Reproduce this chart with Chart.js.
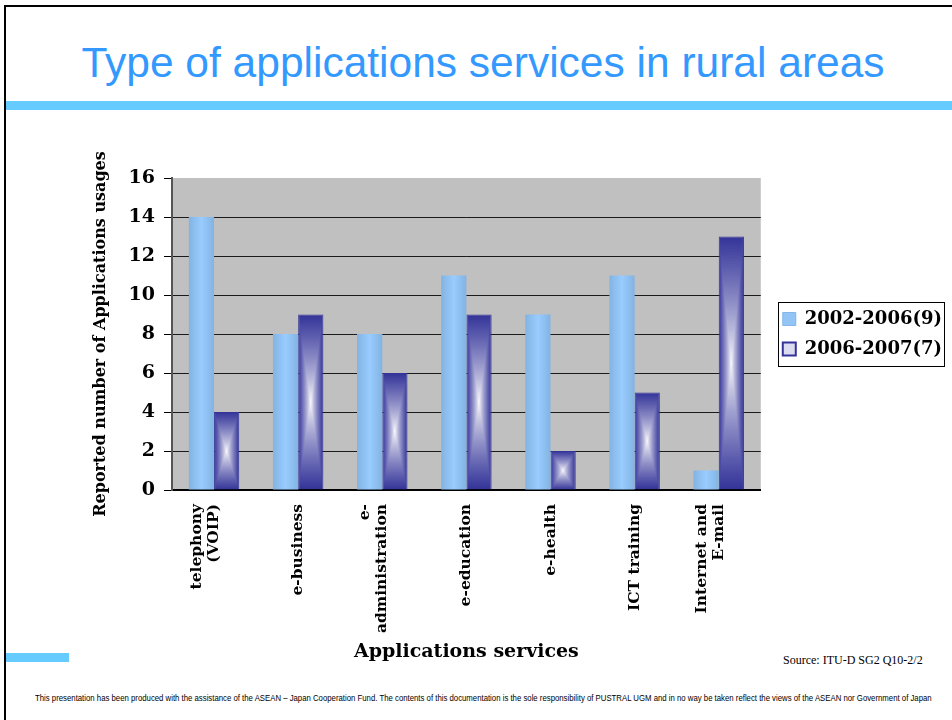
<!DOCTYPE html>
<html>
<head>
<meta charset="utf-8">
<script src="https://cdn.jsdelivr.net/npm/chart.js@4.4.0/dist/chart.umd.min.js"></script>
<style>
  body { margin: 0; width: 952px; height: 720px; background: #fff; position: relative; overflow: hidden; }
  .frameTop { position: absolute; left: 4px; top: 5px; width: 948px; height: 2px; background: #000; }
  .frameLeft { position: absolute; left: 4px; top: 5px; width: 2px; height: 715px; background: #000; }
  .title { position: absolute; left: 0; width: 966px; top: 39px; text-align: center; font-family: "Liberation Sans", Arial, sans-serif; font-size: 42.5px; color: #3399FF; white-space: nowrap; }
  .bar1 { position: absolute; left: 6px; top: 101px; width: 946px; height: 9px; background: #66CCFF; }
  .bar2 { position: absolute; left: 6px; top: 653px; width: 63px; height: 9px; background: #66CCFF; }
  .source { position: absolute; left: 783px; top: 653px; font-family: "Liberation Serif", serif; font-size: 12px; color: #000; }
  #footer { position: absolute; left: 35px; top: 693px; font-family: "Liberation Sans", Arial, sans-serif; font-size: 9px; color: #000; white-space: nowrap; transform-origin: 0 0; }
  #wrap { position: absolute; left: 0; top: 140px; width: 952px; height: 530px; }
</style>
</head>
<body>
<div class="frameTop"></div>
<div class="frameLeft"></div>
<div class="title">Type of applications services in rural areas</div>
<div class="bar1"></div>
<div class="bar2"></div>
<div class="source">Source: ITU-D SG2 Q10-2/2</div>
<span id="footer">This presentation has been produced with the assistance of the ASEAN – Japan Cooperation Fund. The contents of this documentation is the sole responsibility of PUSTRAL UGM and in no way be taken reflect the views of the ASEAN nor Government of Japan</span>
<div id="wrap"><canvas id="chart"></canvas></div>
<script>
const categories = [
  ["telephony", "(VOIP)"],
  "e-business",
  ["e-", "administration"],
  "e-education",
  "e-health",
  "ICT training",
  ["Internet and", "E-mail"]
];
const seriesNames = ["2002-2006(9)", "2006-2007(7)"];
const values2002 = [14, 8, 8, 11, 9, 11, 1];
const values2006 = [4, 9, 6, 9, 2, 5, 13];
const yTicks = [0, 2, 4, 6, 8, 10, 12, 14, 16];

// one-line names get an empty first line so the last line always sits on the tick
const tickLabels = categories.map(c => (Array.isArray(c) ? c : ["", c]));
const labelLine = 17;

// squeeze the footer line to the width it has on the slide
const foot = document.getElementById("footer");
foot.style.transform = "scaleX(" + (897 / foot.offsetWidth) + ")";

// rectangle gradient (centre colour -> edge colour), used as a fill pattern
function rectPattern(ctx, w, h, inner, outer, power) {
  w = Math.max(1, Math.round(w));
  h = Math.max(1, Math.round(h));
  const c = document.createElement("canvas");
  c.width = w; c.height = h;
  const g = c.getContext("2d");
  const img = g.createImageData(w, h);
  for (let y = 0; y < h; y++) {
    for (let x = 0; x < w; x++) {
      const dx = Math.abs(x + 0.5 - w / 2) / (w / 2);
      const dy = Math.abs(y + 0.5 - h / 2) / (h / 2);
      const t = Math.pow(Math.max(dx, dy), power);
      const i = (y * w + x) * 4;
      img.data[i] = inner[0] + (outer[0] - inner[0]) * t;
      img.data[i + 1] = inner[1] + (outer[1] - inner[1]) * t;
      img.data[i + 2] = inner[2] + (outer[2] - inner[2]) * t;
      img.data[i + 3] = 255;
    }
  }
  g.putImageData(img, 0, 0);
  return ctx.createPattern(c, "no-repeat");
}

const legendGap = 10;

const barLook = {
  id: "barLook",
  beforeLayout(chart) {
    // leave a small gap between the plot and the legend
    const lg = chart.legend;
    if (lg && !lg._gapPatched) {
      const fit = lg.fit.bind(lg);
      lg.fit = function () { fit(); this.width += legendGap; };
      lg._gapPatched = true;
    }
  },
  afterLayout(chart) {
    chart.legend.left += legendGap;
  },
  beforeDraw(chart) {
    const a = chart.chartArea;
    const ctx = chart.ctx;
    ctx.save();
    ctx.fillStyle = "#C0C0C0";
    ctx.fillRect(a.left, a.top, a.right - a.left, a.bottom - a.top);
    ctx.restore();
  },
  beforeDatasetsDraw(chart) {
    const ctx = chart.ctx;
    chart.data.datasets.forEach((ds, di) => {
      chart.getDatasetMeta(di).data.forEach(el => {
        const left = el.x - el.width / 2;
        const top = Math.min(el.y, el.base);
        const h = Math.abs(el.base - el.y);
        if (di === 0) {
          const g = ctx.createLinearGradient(left, 0, left + el.width, 0);
          g.addColorStop(0, "#82B3E2");
          g.addColorStop(0.5, "#99CCFF");
          g.addColorStop(1, "#82B3E2");
          el.options.backgroundColor = g;
        } else {
          const p = rectPattern(ctx, el.width, h, [255, 255, 255], [51, 51, 153], 0.8);
          p.setTransform(new DOMMatrix().translate(left, top));
          el.options.backgroundColor = p;
        }
      });
    });
  },
  afterDraw(chart) {
    const boxes = chart.legend.legendHitBoxes;
    if (!boxes || !boxes.length) return;
    let l = Infinity, t = Infinity, r = -Infinity, b = -Infinity;
    boxes.forEach(h => {
      l = Math.min(l, h.left); t = Math.min(t, h.top);
      r = Math.max(r, h.left + h.width); b = Math.max(b, h.top + h.height);
    });
    const ctx = chart.ctx;
    ctx.save();
    ctx.strokeStyle = "#000";
    ctx.lineWidth = 1;
    ctx.strokeRect(Math.round(l - 5) + 0.5, Math.round(t - 8) + 0.5, Math.round(r - l + 7), Math.round(b - t + 16));
    ctx.restore();
  }
};

const serif = "'DejaVu Serif', 'Liberation Serif', serif";

new Chart(document.getElementById("chart"), {
  type: "bar",
  data: {
    labels: tickLabels,
    datasets: [
      {
        label: seriesNames[0],
        data: values2002,
        backgroundColor: () => "#8DBEF0",
        borderWidth: 0,
        categoryPercentage: 0.6,
        barPercentage: 1
      },
      {
        label: seriesNames[1],
        data: values2006,
        backgroundColor: () => "#9999CC",
        borderColor: "#333399",
        borderWidth: 1,
        categoryPercentage: 0.6,
        barPercentage: 1
      }
    ]
  },
  options: {
    responsive: true,
    maintainAspectRatio: false,
    animation: false,
    layout: { padding: { left: 91, right: 0, top: 38, bottom: 7 } },
    plugins: {
      tooltip: { enabled: false },
      legend: {
        position: "right",
        fullSize: false,
        labels: {
          color: "#000",
          font: { family: serif, size: 18, weight: "bold" },
          boxWidth: 13,
          boxHeight: 13,
          padding: 12,
          generateLabels() {
            return [
              { text: seriesNames[0], fillStyle: "#92C4F6", strokeStyle: "#84B6E6", lineWidth: 1, datasetIndex: 0 },
              { text: seriesNames[1], fillStyle: "#DCDCF0", strokeStyle: "#333399", lineWidth: 2, datasetIndex: 1 }
            ];
          }
        }
      }
    },
    scales: {
      x: {
        grid: { display: false },
        border: { color: "#000", width: 2 },
        ticks: {
          color: "#000",
          maxRotation: 90,
          minRotation: 90,
          padding: 6,
          labelOffset: -labelLine,
          font: { family: serif, size: 15.5, weight: "bold", lineHeight: labelLine + "px" }
        },
        title: {
          display: true,
          text: "Applications services",
          color: "#000",
          font: { family: serif, size: 19, weight: "bold" },
          padding: { top: 0, bottom: 0 }
        },
        afterFit(scale) { scale.height = 173; }
      },
      y: {
        min: 0,
        max: 16,
        afterBuildTicks(scale) { scale.ticks = yTicks.map(v => ({ value: v })); },
        grid: {
          color: c => (c.tick && c.tick.value === 16 ? "rgba(0,0,0,0)" : "#1a1a1a"),
          tickColor: "#000",
          tickLength: 8,
          lineWidth: 1
        },
        border: { color: "#555", width: 2 },
        ticks: {
          color: "#000",
          padding: 9,
          font: { family: serif, size: 19, weight: "bold" }
        },
        title: {
          display: true,
          text: "Reported number of Applications usages",
          color: "#000",
          font: { family: serif, size: 16, weight: "bold" },
          padding: { top: 0, bottom: 0 }
        },
        afterFit(scale) { scale.width = 81; }
      }
    }
  },
  plugins: [barLook]
});
</script>
</body>
</html>
